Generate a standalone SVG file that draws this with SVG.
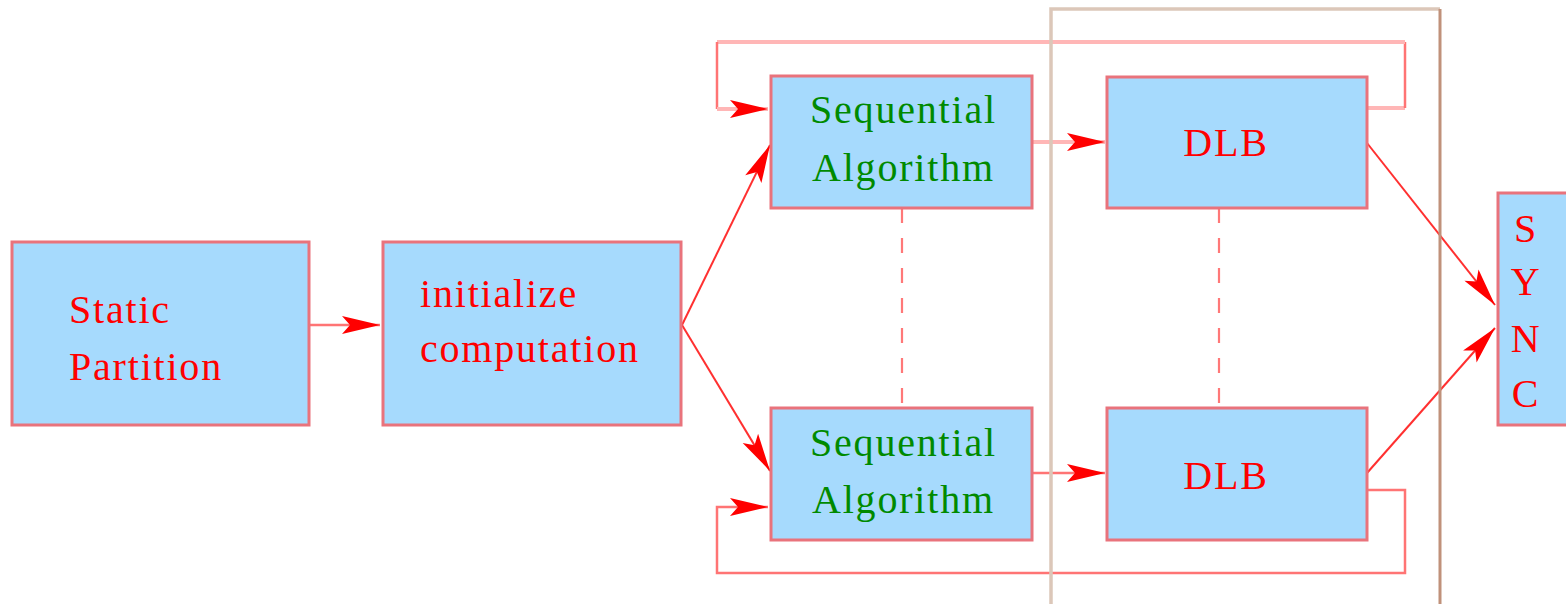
<svg xmlns="http://www.w3.org/2000/svg" width="1566" height="604" viewBox="0 0 1566 604">
  <style>
    .box { fill: #a6dafd; stroke: #e9737c; stroke-width: 3; }
    .lbl { font-family: "Liberation Serif", "Times New Roman", serif; font-size: 40px; letter-spacing: 1.8px; }
    .red { fill: #ff0000; }
    .green { fill: #008a00; }
    .wire { fill: none; stroke: #ff7474; stroke-width: 2.5; }
    .wire-light { fill: none; stroke: #ffb6b6; stroke-width: 4; }
    .diag { fill: none; stroke: #ff3030; stroke-width: 2; }
    .dash { fill: none; stroke: #ff7878; stroke-width: 2.2; stroke-dasharray: 15 15; }
  </style>
  <defs>
    <marker id="head" viewBox="-41 -11 42 22" refX="0" refY="0" markerWidth="42" markerHeight="22" markerUnits="userSpaceOnUse" orient="auto">
      <path d="M0,0 L-38,-9 L-30,0 L-38,9 Z" fill="#ff0000"/>
    </marker>
  </defs>

  <rect width="1566" height="604" fill="#ffffff"/>

  <!-- connectors -->
  <g id="connectors">
    <!-- feedback loop, upper lane -->
    <path class="wire-light" d="M1367,108 H1405"/>
    <path class="wire" d="M1405,108 V42"/>
    <path class="wire-light" d="M1405,42 H717"/>
    <path class="wire" d="M717,42 V109"/>
    <path class="wire-light" d="M717,109 H768" marker-end="url(#head)"/>
    <!-- feedback loop, lower lane -->
    <path class="wire" d="M1367,490 H1405 V573 H717 V507 H768" marker-end="url(#head)"/>

    <!-- main flow -->
    <path class="wire" d="M310,325 H380" marker-end="url(#head)"/>
    <path class="diag" d="M682,325 L770,145" marker-end="url(#head)"/>
    <path class="diag" d="M682,325 L770,471" marker-end="url(#head)"/>
    <path class="wire-light" d="M1032,142 H1105" marker-end="url(#head)"/>
    <path class="wire" d="M1032,473 H1105" marker-end="url(#head)"/>
    <path class="diag" d="M1367,143 L1495,305" marker-end="url(#head)"/>
    <path class="diag" d="M1367,473 L1495,328" marker-end="url(#head)"/>

    <!-- parallel instance separators -->
    <path class="dash" d="M902,208 V408"/>
    <path class="dash" d="M1219,208 V408"/>
  </g>

  <!-- bounding frame around the balancing stage -->
  <g id="frame">
    <path d="M1051,604 V9 H1440" fill="none" stroke="#dcc7b9" stroke-width="3.5"/>
    <path d="M1440,9 V604" fill="none" stroke="#c0917a" stroke-width="3"/>
  </g>

  <g id="static-partition">
    <rect class="box" x="12" y="242" width="297" height="183"/>
    <text class="lbl red" x="69" y="323">Static</text>
    <text class="lbl red" x="69" y="380">Partition</text>
  </g>

  <g id="initialize-computation">
    <rect class="box" x="383" y="242" width="298" height="183"/>
    <text class="lbl red" x="420" y="307">initialize</text>
    <text class="lbl red" x="420" y="362">computation</text>
  </g>

  <g id="seq-algo-1">
    <rect class="box" x="771" y="76" width="261" height="132"/>
    <text class="lbl green" x="810" y="123">Sequential</text>
    <text class="lbl green" x="812" y="181">Algorithm</text>
  </g>

  <g id="seq-algo-2">
    <rect class="box" x="771" y="408" width="261" height="132"/>
    <text class="lbl green" x="810" y="456">Sequential</text>
    <text class="lbl green" x="812" y="513">Algorithm</text>
  </g>

  <g id="dlb-1">
    <rect class="box" x="1107" y="77" width="260" height="131"/>
    <text class="lbl red" x="1226" y="156" text-anchor="middle">DLB</text>
  </g>

  <g id="dlb-2">
    <rect class="box" x="1107" y="408" width="260" height="132"/>
    <text class="lbl red" x="1226" y="489" text-anchor="middle">DLB</text>
  </g>

  <g id="sync">
    <rect class="box" x="1498" y="193" width="80" height="232"/>
    <text class="lbl red" x="1526" y="242" text-anchor="middle">S</text>
    <text class="lbl red" x="1526" y="295" text-anchor="middle">Y</text>
    <text class="lbl red" x="1526" y="352" text-anchor="middle">N</text>
    <text class="lbl red" x="1526" y="407" text-anchor="middle">C</text>
  </g>
</svg>
